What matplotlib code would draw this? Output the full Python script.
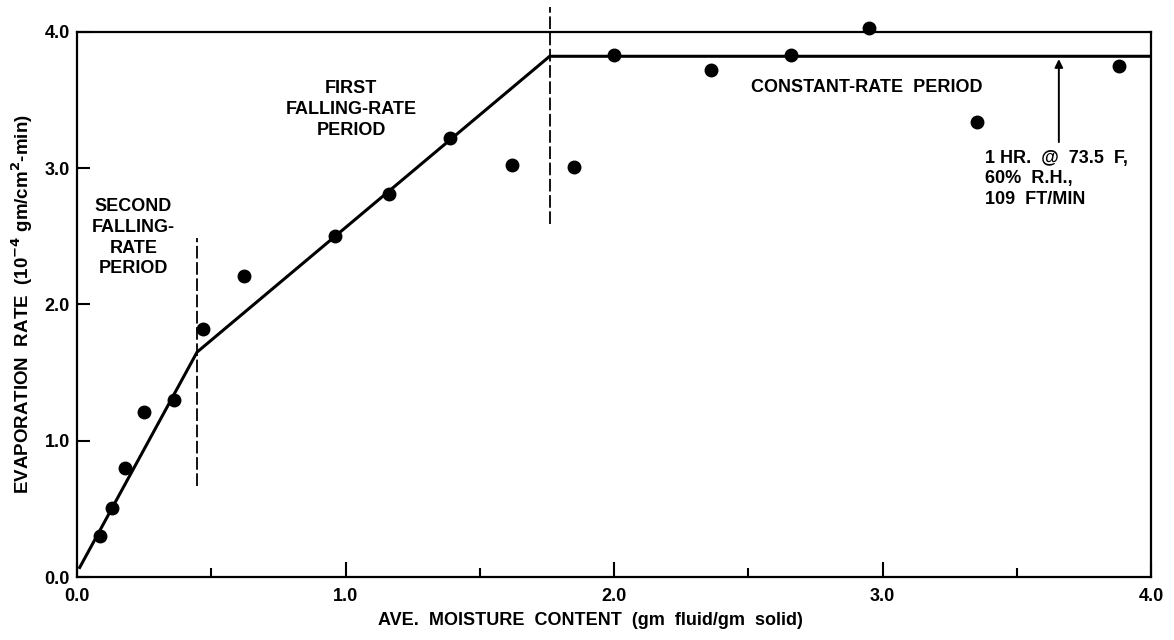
import matplotlib.pyplot as plt

plt.rcParams['font.family'] = ['Liberation Sans', 'DejaVu Sans']
plt.rcParams['font.weight'] = 'bold'
plt.rcParams['axes.labelweight'] = 'bold'

# measured points
moisture = [0.087, 0.13, 0.18, 0.25, 0.36, 0.47, 0.62, 0.96, 1.16, 1.39, 1.62, 1.85,
            2.0, 2.36, 2.66, 2.95, 3.35, 3.88]
rate = [0.30, 0.51, 0.80, 1.21, 1.30, 1.82, 2.21, 2.50, 2.81, 3.22, 3.02, 3.01,
        3.83, 3.72, 3.83, 4.03, 3.34, 3.75]

# fitted piecewise line
fit_x = [0.01, 0.447, 1.76, 4.0]
fit_y = [0.07, 1.65, 3.82, 3.82]

# period boundaries (x, ymin, ymax)
bound_x = [0.447, 1.76]
bound_lo = [0.67, 2.59]
bound_hi = [2.49, 4.18]

fig = plt.figure(figsize=(11.74, 6.4), dpi=100)
ax = fig.add_axes([0.0656, 0.0984, 0.915, 0.852])

ax.plot(fit_x, fit_y, color='black', lw=2.2, solid_joinstyle='miter')
ax.plot(moisture, rate, 'o', color='black', ms=9, clip_on=False)
for bx, lo, hi in zip(bound_x, bound_lo, bound_hi):
    ax.plot([bx, bx], [lo, hi], color='black', lw=1.3, ls=(0, (7, 2)), clip_on=False)

ax.annotate('', xy=(3.656, 3.82), xytext=(3.656, 3.17),
            arrowprops=dict(arrowstyle='-|>', color='black', lw=1.4, mutation_scale=12))

ax.text(0.21, 2.49, 'SECOND\nFALLING-\nRATE\nPERIOD', ha='center', va='center',
        fontsize=13, linespacing=1.3)
ax.text(1.02, 3.43, 'FIRST\nFALLING-RATE\nPERIOD', ha='center', va='center',
        fontsize=13, linespacing=1.3)
ax.text(2.94, 3.59, 'CONSTANT-RATE  PERIOD', ha='center', va='center', fontsize=13)
ax.text(3.38, 2.92, '1 HR.  @  73.5  F,\n60%  R.H.,\n109  FT/MIN', ha='left', va='center',
        fontsize=13, linespacing=1.3)

ax.set_xlim(0, 4.0)
ax.set_ylim(0, 4.0)
ax.set_xticks([0, 1, 2, 3, 4])
ax.set_xticklabels(['0.0', '1.0', '2.0', '3.0', '4.0'])
ax.set_xticks([0.5, 1.5, 2.5, 3.5], minor=True)
ax.set_yticks([0, 1, 2, 3, 4])
ax.set_yticklabels(['0.0', '1.0', '2.0', '3.0', '4.0'])
ax.tick_params(axis='x', which='major', direction='in', length=11, width=1.5,
               labelsize=13, pad=8)
ax.tick_params(axis='x', which='minor', direction='in', length=6.5, width=1.5)
ax.tick_params(axis='y', which='major', direction='in', length=9, width=1.5,
               labelsize=13, pad=5)
for s in ax.spines.values():
    s.set_linewidth(1.6)

ax.set_xlabel('AVE.  MOISTURE  CONTENT  (gm  fluid/gm  solid)', fontsize=13,
              labelpad=5, x=0.478)
ax.set_ylabel(r'EVAPORATION  RATE  (10$^{\mathbf{-4}}$ gm/cm$^{\mathbf{2}}$-min)',
              fontsize=13.5, labelpad=7)

fig.savefig('out.png', dpi=100)
